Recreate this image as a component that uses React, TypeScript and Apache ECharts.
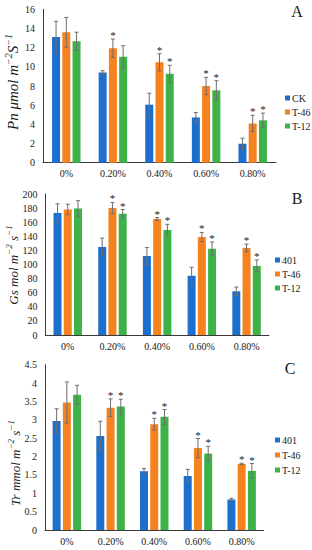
import React, { useEffect, useRef } from "react";
import * as echarts from "echarts";

const categories = ["0%", "0.20%", "0.40%", "0.60%", "0.80%"];

// Panel A: Pn
const pnNames = ["CK", "T-46", "T-12"];
const pnCK = [13.1, 9.4, 6.05, 4.72, 1.98];
const pnCKErr = [1.65, 0.2, 1.2, 0.52, 0.58];
const pnT46 = [13.6, 11.95, 10.47, 8.0, 4.1];
const pnT46Err = [1.55, 0.95, 0.9, 0.9, 0.85];
const pnT12 = [12.66, 11.05, 9.28, 7.55, 4.42];
const pnT12Err = [0.95, 1.15, 0.88, 1.0, 0.75];
const pnSigT46 = [0, 1, 1, 1, 1];
const pnSigT12 = [0, 0, 1, 1, 1];

// Panel B: Gs
const gsNames = ["401", "T-46", "T-12"];
const gs401 = [173, 125, 112, 84, 62];
const gs401Err = [13, 12.5, 12, 12, 6];
const gsT46 = [178, 180, 164.5, 139, 123.5];
const gsT46Err = [7.5, 8, 2, 6.5, 5.5];
const gsT12 = [179.5, 172, 149, 122.5, 98];
const gsT12Err = [11, 6, 8, 9.5, 8.5];
const gsSigT46 = [0, 1, 1, 1, 1];
const gsSigT12 = [0, 1, 1, 1, 1];

// Panel C: Tr
const trNames = ["401", "T-46", "T-12"];
const tr401 = [2.97, 2.56, 1.6, 1.47, 0.83];
const tr401Err = [0.33, 0.4, 0.07, 0.18, 0.03];
const trT46 = [3.47, 3.33, 2.88, 2.23, 1.8];
const trT46Err = [0.56, 0.24, 0.16, 0.26, 0.02];
const trT12 = [3.68, 3.36, 3.08, 2.08, 1.61];
const trT12Err = [0.26, 0.2, 0.2, 0.2, 0.2];
const trSigT12 = [0, 1, 1, 1, 1];
const trSigT46 = [0, 1, 1, 1, 1];
const noSig = [0, 0, 0, 0, 0];

// y-axis titles: [text, isSuperscript]
const yTitleA: [string, boolean][] = [["Pn μmol m", false], ["−2", true], ["S", false], ["−1", true]];
const yTitleB: [string, boolean][] = [["Gs mol m", false], ["−2", true], [" s", false], ["−1", true]];
const yTitleC: [string, boolean][] = [["Tr mmol m", false], ["−2", true], [" s", false], ["−1", true]];
const panelLetters = ["A", "B", "C"];
const yMax = [16, 200, 4.5];
const yInterval = [2, 20, 0.5];

const COLORS = ["#1c6fcd", "#f5821f", "#3db249"];
const FONT = "'Liberation Serif', 'Times New Roman', serif";
const TEXT = "#1a1a1a";

function measure(text: string, font: string): number {
  const c = document.createElement("canvas").getContext("2d");
  if (!c) return text.length * 6;
  c.font = font;
  return c.measureText(text).width;
}

function makeTitle(parts: [string, boolean][], size: number, x: number, y: number) {
  const mainFont = "italic " + size + "px " + FONT;
  const supSize = Math.round(size * 0.68);
  const supFont = "italic " + supSize + "px " + FONT;
  const widths = parts.map(([t, sup]) => measure(t, sup ? supFont : mainFont));
  const total = widths.reduce((a, b) => a + b, 0);
  let cx = -total / 2;
  const children: any[] = parts.map(([t, sup], i) => {
    const el = {
      type: "text",
      x: cx,
      y: sup ? -size * 0.33 : 0,
      style: {
        text: t,
        textAlign: "left",
        textVerticalAlign: "middle",
        font: sup ? supFont : mainFont,
        fill: TEXT,
      },
    };
    cx += widths[i];
    return el;
  });
  return { type: "group", x, y, rotation: Math.PI / 2, children };
}

export default function App() {
  const ref = useRef<HTMLDivElement>(null);

  useEffect(() => {
    document.body.style.margin = "0";
    if (!ref.current) return;
    const chart = echarts.init(ref.current, null, { renderer: "svg" });

    const panels = [
      {
        names: pnNames,
        values: [pnCK, pnT46, pnT12],
        errs: [pnCKErr, pnT46Err, pnT12Err],
        sig: [noSig, pnSigT46, pnSigT12],
      },
      {
        names: gsNames,
        values: [gs401, gsT46, gsT12],
        errs: [gs401Err, gsT46Err, gsT12Err],
        sig: [noSig, gsSigT46, gsSigT12],
      },
      {
        names: trNames,
        values: [tr401, trT46, trT12],
        errs: [tr401Err, trT46Err, trT12Err],
        sig: [noSig, trSigT46, trSigT12],
      },
    ];

    const grids = [
      { left: 43, top: 9.3, width: 233, height: 153.4 },
      { left: 45.4, top: 194, width: 223.5, height: 141 },
      { left: 45, top: 364.7, width: 218.5, height: 165.3 },
    ];

    const legendPos = [
      { left: 280, top: 88, itemGap: 4 },
      { left: 270, top: 250, itemGap: 4 },
      { left: 270, top: 430, itemGap: 5 },
    ];
    const titleParts = [yTitleA, yTitleB, yTitleC];
    const titlePos = [
      { x: 13, y: 82, size: 15 },
      { x: 13, y: 265, size: 13 },
      { x: 15, y: 463, size: 13 },
    ];
    const letterPos = [
      { x: 297, y: 11 },
      { x: 297, y: 198 },
      { x: 290, y: 368 },
    ];

    const barWidth = 8;
    const pitch = barWidth * 1.28;

    const series: any[] = [];
    panels.forEach((p, pi) => {
      p.values.forEach((vals, k) => {
        series.push({
          type: "bar",
          name: p.names[k],
          xAxisIndex: pi,
          yAxisIndex: pi,
          data: vals,
          barWidth,
          barGap: "28%",
          itemStyle: { color: COLORS[k] },
        });
      });
      p.values.forEach((vals, k) => {
        const offset = (k - 1) * pitch;
        series.push({
          type: "custom",
          name: "err-" + pi + "-" + k,
          xAxisIndex: pi,
          yAxisIndex: pi,
          silent: true,
          z: 5,
          data: vals.map((v, i) => [i, v - p.errs[k][i], v + p.errs[k][i], p.sig[k][i]]),
          encode: { x: 0, y: [1, 2] },
          renderItem: (params: any, api: any) => {
            const i = api.value(0);
            const lo = api.coord([i, api.value(1)]);
            const hi = api.coord([i, api.value(2)]);
            const x = lo[0] + offset;
            const stroke = { stroke: "#6e6e6e", lineWidth: 1 };
            const children: any[] = [
              { type: "line", shape: { x1: x, y1: hi[1], x2: x, y2: lo[1] }, style: stroke },
              { type: "line", shape: { x1: x - 2, y1: hi[1], x2: x + 2, y2: hi[1] }, style: stroke },
              { type: "line", shape: { x1: x - 2, y1: lo[1], x2: x + 2, y2: lo[1] }, style: stroke },
            ];
            if (api.value(3)) {
              children.push({
                type: "text",
                x: x,
                y: hi[1] - 4,
                style: {
                  text: "*",
                  textAlign: "center",
                  textVerticalAlign: "middle",
                  font: "11px " + FONT,
                  fill: TEXT,
                },
              });
            }
            return { type: "group", children };
          },
        });
      });
    });

    const graphic: any[] = [];
    titleParts.forEach((parts, i) => {
      graphic.push(makeTitle(parts, titlePos[i].size, titlePos[i].x, titlePos[i].y));
      graphic.push({
        type: "text",
        x: letterPos[i].x,
        y: letterPos[i].y,
        style: {
          text: panelLetters[i],
          textAlign: "center",
          textVerticalAlign: "middle",
          font: "16px " + FONT,
          fill: TEXT,
        },
      });
    });

    chart.setOption({
      animation: false,
      grid: grids.map((g) => ({ ...g, containLabel: false })),
      xAxis: panels.map((_, i) => ({
        type: "category",
        gridIndex: i,
        data: categories,
        axisTick: { show: false },
        axisLine: { show: true, lineStyle: { color: "#3a3a3a", width: 1 } },
        axisLabel: { color: TEXT, fontFamily: FONT, fontSize: 10, margin: 6, interval: 0 },
      })),
      yAxis: panels.map((_, i) => ({
        type: "value",
        gridIndex: i,
        min: 0,
        max: yMax[i],
        interval: yInterval[i],
        splitLine: { show: false },
        axisTick: { show: false },
        axisLine: { show: true, lineStyle: { color: "#3a3a3a", width: 1 } },
        axisLabel: { color: TEXT, fontFamily: FONT, fontSize: 10, margin: 8 },
      })),
      legend: panels.map((p, i) => ({
        orient: "vertical",
        left: legendPos[i].left,
        top: legendPos[i].top,
        itemGap: legendPos[i].itemGap,
        itemWidth: 5,
        itemHeight: 5,
        icon: "rect",
        data: p.names,
        selectedMode: false,
        textStyle: { color: TEXT, fontFamily: FONT, fontSize: 10, padding: [0, 0, 0, -3] },
      })),
      graphic,
      series,
    });

    return () => {
      chart.dispose();
    };
  }, []);

  return <div ref={ref} style={{ width: 312, height: 550 }} />;
}
